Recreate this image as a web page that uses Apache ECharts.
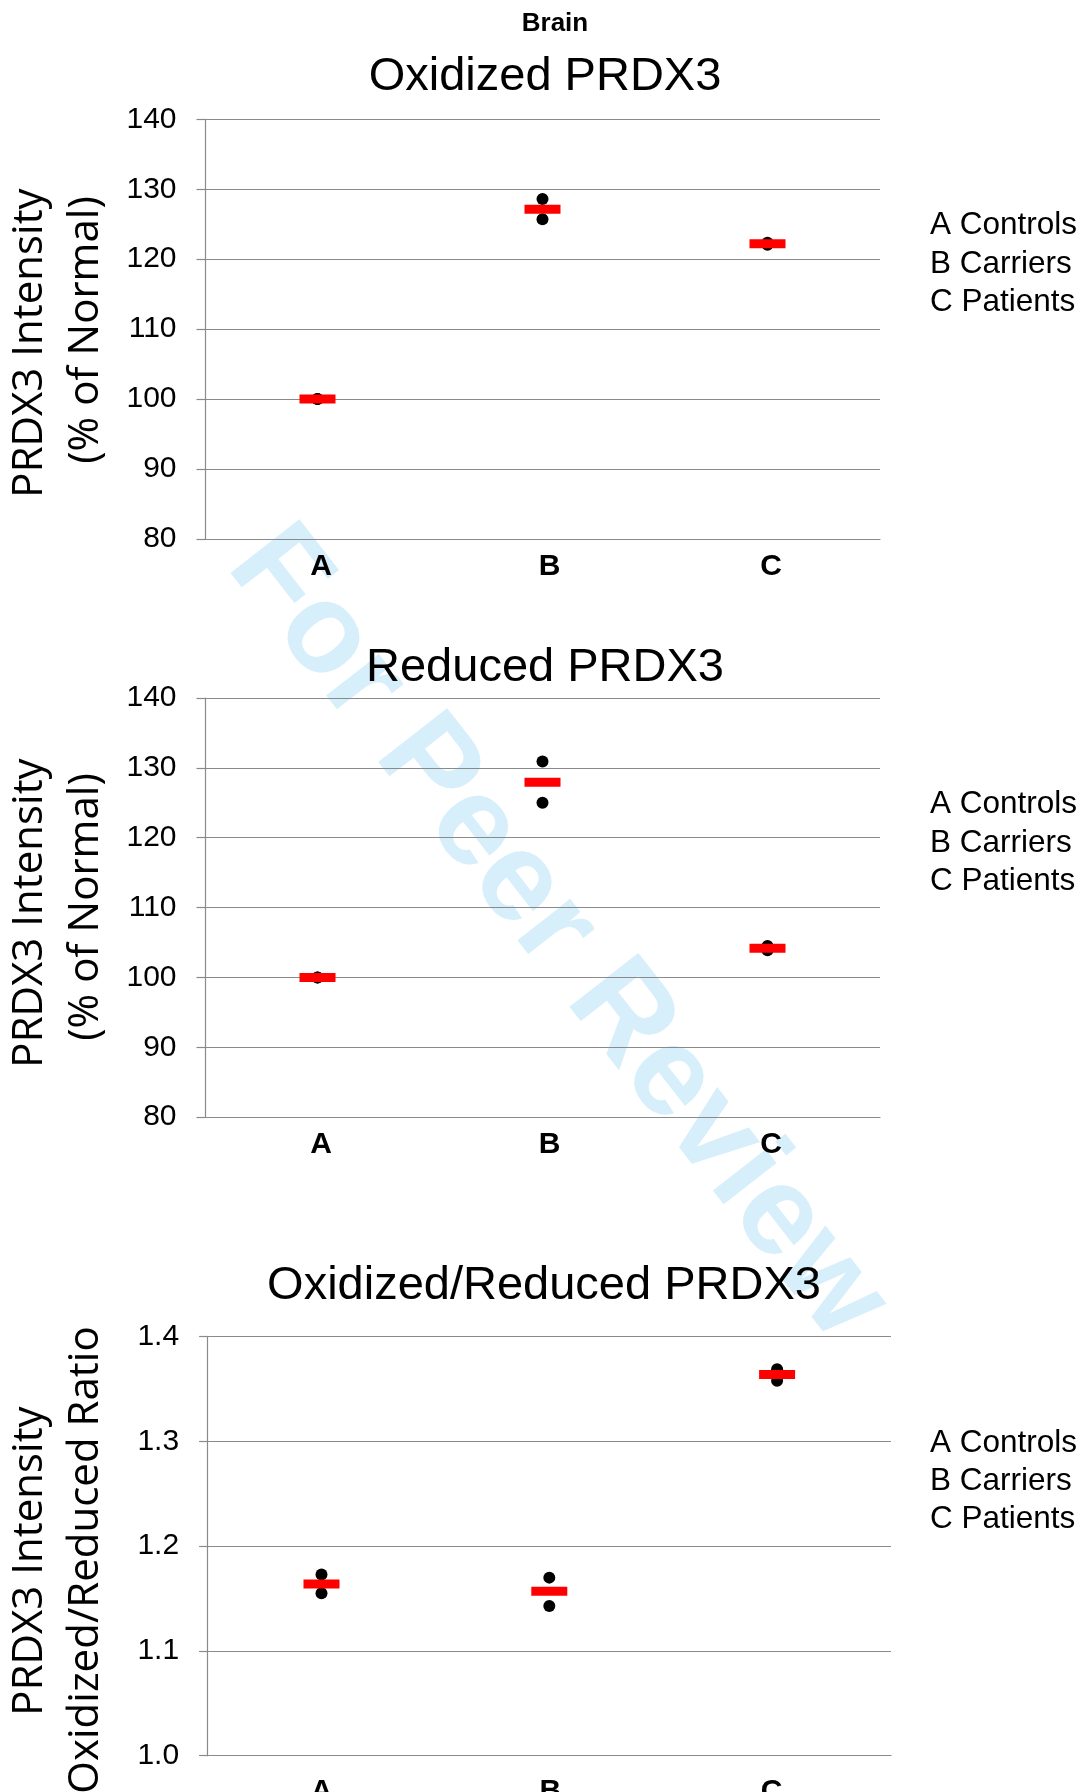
<!DOCTYPE html>
<html>
<head>
<meta charset="utf-8">
<style>
  html, body { margin: 0; padding: 0; background: #ffffff; }
  #chart { width: 1085px; height: 1792px; }
</style>
<script src="https://cdn.jsdelivr.net/npm/echarts@6/dist/echarts.min.js"></script>
</head>
<body>
<div id="chart"></div>
<script>
// ---------- data ----------
const categories = ['A', 'B', 'C'];
const legendLines = ['A Controls', 'B Carriers', 'C Patients'];
const panelTitles = ['Oxidized PRDX3', 'Reduced PRDX3', 'Oxidized/Reduced PRDX3'];
const yNameLine1 = ['PRDX3 Intensity', 'PRDX3 Intensity', 'PRDX3 Intensity'];
const yNameLine2 = ['(% of Normal)', '(% of Normal)', 'Oxidized/Reduced Ratio'];

// Oxidized PRDX3 (% of normal)
const oxidizedDotsHigh = [100, 128.6, 122.35];
const oxidizedDotsLow  = [100, 125.7, 122.08];
const oxidizedMean     = [100, 127.13, 122.2];

// Reduced PRDX3 (% of normal)
const reducedDotsHigh = [100, 130.9, 104.5];
const reducedDotsLow  = [100, 125.0, 103.9];
const reducedMean     = [100, 127.93, 104.18];

// Oxidized / Reduced ratio
const ratioDotsHigh = [1.173, 1.170, 1.369];
const ratioDotsLow  = [1.155, 1.143, 1.358];
const ratioMean     = [1.164, 1.157, 1.364];

const pctTicks   = { min: 80, max: 140, interval: 10 };
const ratioTicks = { min: 1.0, max: 1.4, interval: 0.1 };

// ---------- styles / layout ----------
const FONT = "'Liberation Sans', Arial, sans-serif";
const NAME_FONT = "'Open Sans', sans-serif";
const GRID_COLOR = '#8a8a8a';

const grids = [
  { left: 205,   top: 119.4,  width: 675,   height: 419.4 },
  { left: 205,   top: 698,    width: 675,   height: 419.2 },
  { left: 207.6, top: 1336.7, width: 683.4, height: 419 }
];
const titleY = [77.5, 668, 1286.5];
const titleX = [545, 545, 544];
const legendY = [[225.6, 264.3, 302.8], [804.8, 843.3, 881.7], [1443.5, 1481.7, 1519.4]];
const nameY1 = [343, 913, 1561];
const nameY2 = [330, 907, 1560];
const labelMargin = [13, 13, 21];
// horizontal nudge (px) of each category label relative to its category centre
const labelNudge = [[3.5, 7, 3.6], [3.5, 7, 3.6], [0, 1, -5.4]];

const panels = [
  { high: oxidizedDotsHigh, low: oxidizedDotsLow, mean: oxidizedMean, ticks: pctTicks, fmt: v => String(v) },
  { high: reducedDotsHigh,  low: reducedDotsLow,  mean: reducedMean,  ticks: pctTicks, fmt: v => String(v) },
  { high: ratioDotsHigh,    low: ratioDotsLow,    mean: ratioMean,    ticks: ratioTicks, fmt: v => v.toFixed(1) }
];

const xAxes = [], yAxes = [], series = [], graphics = [];

panels.forEach((p, i) => {
  const rich = {};
  categories.forEach((c, k) => {
    const d = labelNudge[i][k];
    rich['c' + k] = {
      color: '#000', fontFamily: FONT, fontWeight: 'bold', fontSize: 30,
      padding: d >= 0 ? [0, 0, 0, 2 * d] : [0, -2 * d, 0, 0]
    };
  });
  xAxes.push({
    type: 'category', gridIndex: i, data: categories, boundaryGap: true,
    axisLine: { show: true, lineStyle: { color: GRID_COLOR, width: 1.2 } },
    axisTick: { show: false },
    axisLabel: {
      color: '#000', fontFamily: FONT, fontWeight: 'bold', fontSize: 30, margin: labelMargin[i],
      formatter: (v, idx) => '{c' + categories.indexOf(v) + '|' + v + '}',
      rich: rich
    },
    splitLine: { show: false }
  });
  yAxes.push({
    type: 'value', gridIndex: i, min: p.ticks.min, max: p.ticks.max, interval: p.ticks.interval,
    axisLine: { show: true, lineStyle: { color: GRID_COLOR, width: 1.2 } },
    axisTick: { show: true, inside: false, length: 8.5, lineStyle: { color: GRID_COLOR, width: 1.2 } },
    axisLabel: { color: '#000', fontFamily: FONT, fontSize: 30, margin: 28.5, formatter: p.fmt },
    splitLine: { show: true, lineStyle: { color: GRID_COLOR, width: 1.2 } }
  });
  const dotStyle = {
    type: 'scatter', xAxisIndex: i, yAxisIndex: i, symbol: 'circle', symbolSize: 12,
    itemStyle: { color: '#000000', opacity: 1 }, z: 3, silent: true
  };
  series.push(Object.assign({}, dotStyle, { data: p.high }));
  series.push(Object.assign({}, dotStyle, { data: p.low }));
  series.push({
    type: 'scatter', xAxisIndex: i, yAxisIndex: i, symbol: 'rect', symbolSize: [36, 9],
    itemStyle: { color: '#ff0000', opacity: 1 }, z: 4, silent: true, data: p.mean
  });

  // panel title
  graphics.push({
    type: 'text', x: titleX[i], y: titleY[i], z: 10,
    style: { text: panelTitles[i], fill: '#000', font: '47px ' + FONT, align: 'center', verticalAlign: 'middle' }
  });
  // legend lines
  legendLines.forEach((t, k) => {
    graphics.push({
      type: 'text', x: 930, y: legendY[i][k], z: 10,
      style: { text: t, fill: '#000', font: '31.5px ' + FONT, align: 'left', verticalAlign: 'middle' }
    });
  });
  // y axis name (two lines, rotated)
  graphics.push({
    type: 'text', x: 30, y: nameY1[i], rotation: Math.PI / 2, z: 10,
    style: { text: yNameLine1[i], fill: '#000', font: '42px ' + NAME_FONT, align: 'center', verticalAlign: 'middle' }
  });
  graphics.push({
    type: 'text', x: 86, y: nameY2[i], rotation: Math.PI / 2, z: 10,
    style: { text: yNameLine2[i], fill: '#000', font: '42px ' + NAME_FONT, align: 'center', verticalAlign: 'middle' }
  });
});

// header
graphics.push({
  type: 'text', x: 555, y: 24, z: 10,
  style: { text: 'Brain', fill: '#000', font: 'bold 26px ' + FONT, align: 'center', verticalAlign: 'middle' }
});
// watermark (behind everything)
graphics.push({
  type: 'text', x: 557, y: 934, rotation: -52 * Math.PI / 180, z: -100, zlevel: 0,
  style: { text: 'For Peer Review', fill: '#d6effb', font: 'bold 127px ' + FONT, align: 'center', verticalAlign: 'middle' }
});

const chart = echarts.init(document.getElementById('chart'), null, { renderer: 'canvas' });
chart.setOption({
  backgroundColor: '#ffffff',
  animation: false,
  grid: grids.map(g => Object.assign({ outerBoundsMode: 'none', containLabel: false, show: false }, g)),
  xAxis: xAxes,
  yAxis: yAxes,
  series: series,
  graphic: graphics
});
</script>
</body>
</html>
